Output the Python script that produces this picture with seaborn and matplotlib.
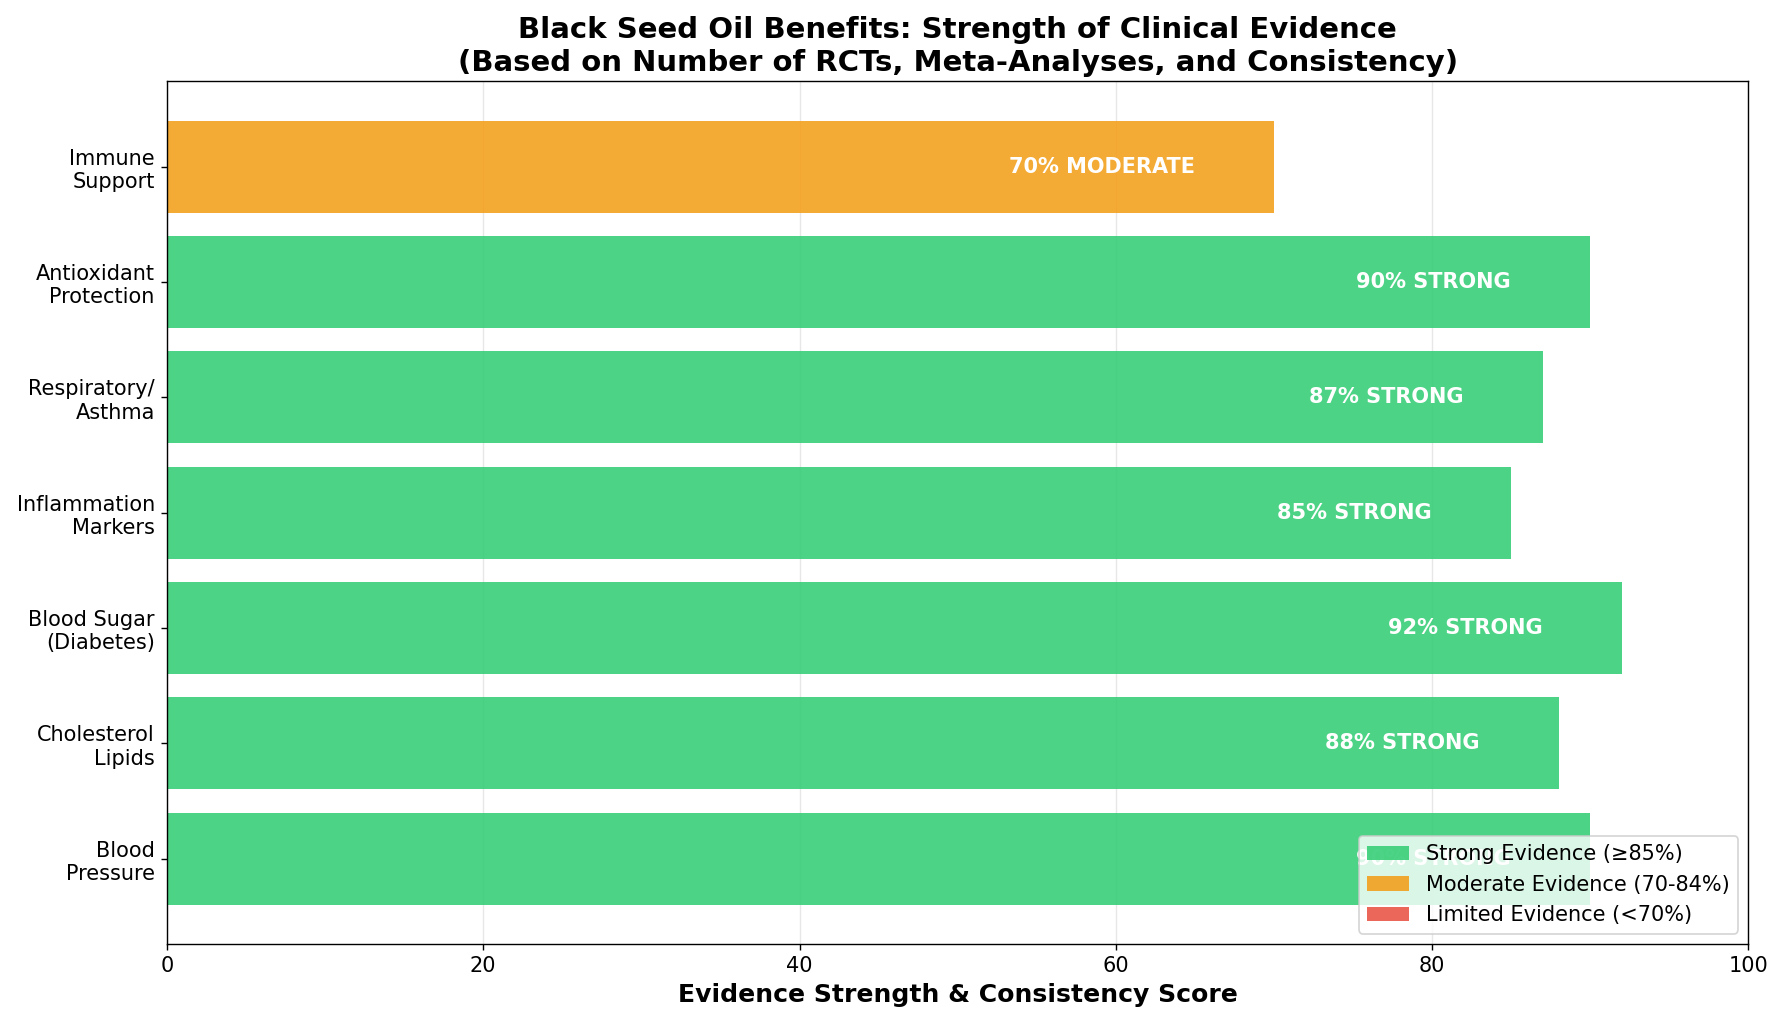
import pandas as pd
import seaborn as sns
import matplotlib.pyplot as plt
from matplotlib.patches import Patch

benefits = [
    "Immune\nSupport",
    "Antioxidant\nProtection",
    "Respiratory/\nAsthma",
    "Inflammation\nMarkers",
    "Blood Sugar\n(Diabetes)",
    "Cholesterol\nLipids",
    "Blood\nPressure",
]
scores = [70, 90, 87, 85, 92, 88, 90]
levels = ["MODERATE", "STRONG", "STRONG", "STRONG", "STRONG", "STRONG", "STRONG"]

level_colors = {"STRONG": "#2ecc71", "MODERATE": "#f39c12", "LIMITED": "#e74c3c"}
legend_labels = [
    ("STRONG", "Strong Evidence (≥85%)"),
    ("MODERATE", "Moderate Evidence (70-84%)"),
    ("LIMITED", "Limited Evidence (<70%)"),
]

df = pd.DataFrame({"benefit": benefits, "score": scores, "level": levels})

fig, ax = plt.subplots(figsize=(14.272, 8.232), dpi=125)
fig.subplots_adjust(left=0.0936, right=0.980, top=0.921, bottom=0.0826)

sns.barplot(
    data=df,
    x="score",
    y="benefit",
    hue="level",
    palette=level_colors,
    dodge=False,
    width=0.8,
    alpha=0.85,
    saturation=1,
    legend=False,
    ax=ax,
)

# labels sit inside the bar, right-aligned a little before the end
for i, (score, level) in enumerate(zip(scores, levels)):
    ax.text(score - 5, i, f"{score}% {level}", ha="right", va="center",
            color="white", fontsize=12, fontweight="bold")

ax.set_xlim(0, 100)
ax.set_ylim(6.74, -0.74)
ax.set_ylabel("")
ax.set_xlabel("Evidence Strength & Consistency Score", fontsize=14.5, fontweight="bold")
ax.set_title("Black Seed Oil Benefits: Strength of Clinical Evidence\n"
             "(Based on Number of RCTs, Meta-Analyses, and Consistency)",
             fontsize=16.8, fontweight="bold")
ax.tick_params(axis="both", labelsize=12)
ax.grid(axis="x", alpha=0.3)
ax.set_axisbelow(True)

handles = [Patch(facecolor=level_colors[k], alpha=0.85, label=lab) for k, lab in legend_labels]
ax.legend(handles=handles, loc="lower right", fontsize=12)

fig.savefig("out.png", dpi=125)
